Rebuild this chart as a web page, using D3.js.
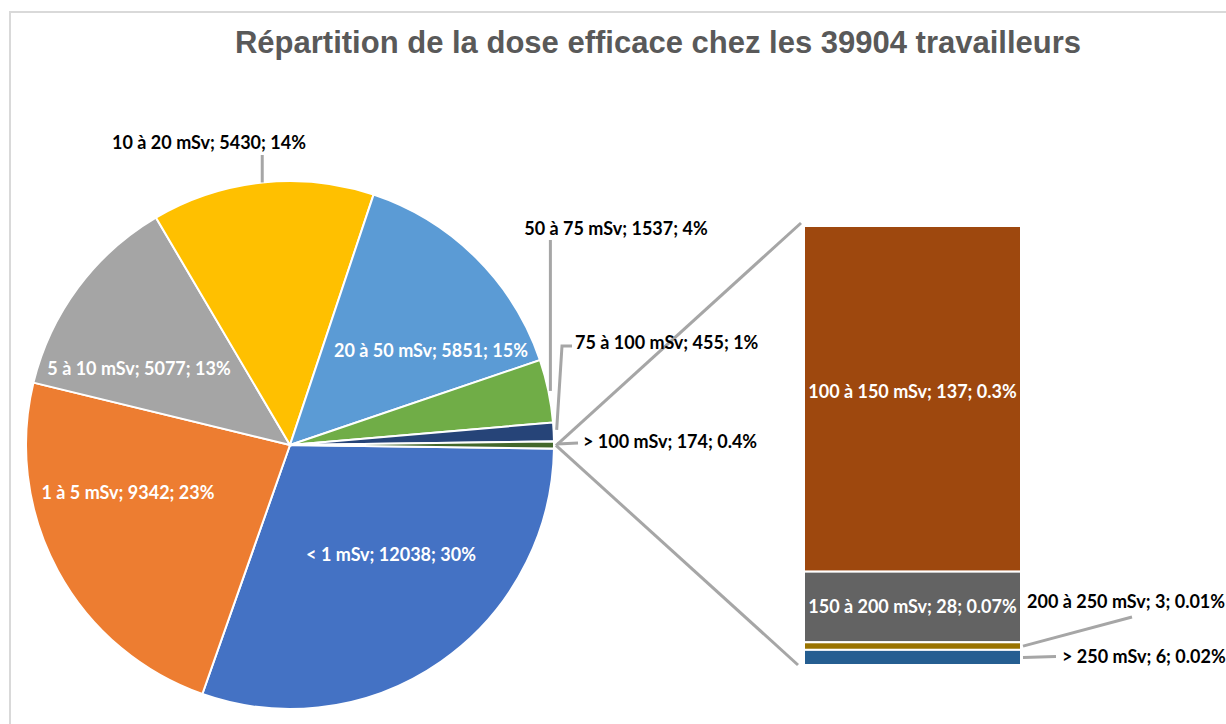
<!DOCTYPE html>
<html>
<head>
<meta charset="utf-8">
<script src="https://d3js.org/d3.v7.min.js"></script>
<style>
  body { margin: 0; background: #fff; }
  text.lbl { font-family: Lato, "Open Sans", sans-serif; font-weight: 700; font-size: 18px; }
</style>
</head>
<body>
<svg id="chart" width="1226" height="724"></svg>
<script>
// pie data
var pieCats = ["< 1 mSv", "1 à 5 mSv", "5 à 10 mSv", "10 à 20 mSv", "20 à 50 mSv", "50 à 75 mSv", "75 à 100 mSv", "> 100 mSv"];
var pieVals = [12038, 9342, 5077, 5430, 5851, 1537, 455, 174];
var piePct  = ["30%", "23%", "13%", "14%", "15%", "4%", "1%", "0.4%"];
var pieColors = ["#4472C4", "#ED7D31", "#A5A5A5", "#FFC000", "#5B9BD5", "#70AD47", "#264478", "#43682B"];

// bar (detail of "> 100 mSv")
var barCats = ["100 à 150 mSv", "150 à 200 mSv", "200 à 250 mSv", "> 250 mSv"];
var barVals = [137, 28, 3, 6];
var barPct  = ["0.3%", "0.07%", "0.01%", "0.02%"];
var barColors = ["#9E480E", "#636363", "#997300", "#255E91"];

var total = d3.sum(pieVals);
var svg = d3.select("#chart");
var grey = "#A6A6A6";

// chart frame
svg.append("path")
   .attr("d", "M10,724 V12 H1226")
   .attr("fill", "none").attr("stroke", "#D9D9D9").attr("stroke-width", 2);

svg.append("text")
   .attr("x", 658).attr("y", 53)
   .attr("text-anchor", "middle")
   .attr("font-family", "Liberation Sans, Arial, sans-serif")
   .attr("font-weight", "bold").attr("font-size", 31)
   .attr("fill", "#595959")
   .text("Répartition de la dose efficace chez les " + total + " travailleurs");

// ---------- pie ----------
var cx = 290, cy = 445, R = 264;
// rotate so the last slice (the one detailed in the bar) sits centered at 3 o'clock
var offset = Math.PI / 2 + Math.PI * pieVals[pieVals.length - 1] / total;
var pie = d3.pie().sort(null).value(function(d) { return d; })
            .startAngle(offset).endAngle(offset + 2 * Math.PI);
var arcs = pie(pieVals);
var arc = d3.arc().innerRadius(0).outerRadius(R);

var g = svg.append("g").attr("transform", "translate(" + cx + "," + cy + ")");
g.selectAll("path").data(arcs).enter().append("path")
  .attr("d", arc)
  .attr("fill", function(d, i) { return pieColors[i]; })
  .attr("stroke", "#fff").attr("stroke-width", 2);

function edge(a, r) {
  var m = (a.startAngle + a.endAngle) / 2;
  return [cx + r * Math.sin(m), cy - r * Math.cos(m)];
}
function pieText(i) { return pieCats[i] + "; " + pieVals[i] + "; " + piePct[i]; }

// inside labels: [index, x, y]
var insideLbl = [[0, 391, 555], [1, 128, 493], [2, 139, 369], [4, 431, 351]];
insideLbl.forEach(function(l) {
  svg.append("text").attr("class", "lbl")
     .attr("x", l[1]).attr("y", l[2]).attr("dy", "0.35em")
     .attr("text-anchor", "middle").attr("fill", "#fff")
     .text(pieText(l[0]));
});

// bar geometry
var bx0 = 804, bx1 = 1021;
var yb = d3.scaleLinear().domain([0, d3.sum(barVals)]).range([226, 665]);
var cum = 0;
var segs = barVals.map(function(v) { var s = { y0: cum, y1: cum + v }; cum += v; return s; });

// connectors pie -> bar
var last = arcs[arcs.length - 1];
var pTop = [cx + R * Math.sin(last.endAngle) + 2, cy - R * Math.cos(last.endAngle) - 3];
var pBot = [cx + R * Math.sin(last.startAngle) + 2, cy - R * Math.cos(last.startAngle) + 4];
svg.append("line").attr("x1", pTop[0]).attr("y1", pTop[1]).attr("x2", bx0 - 3).attr("y2", yb(0) - 3)
   .attr("stroke", grey).attr("stroke-width", 3);
svg.append("line").attr("x1", pBot[0]).attr("y1", pBot[1]).attr("x2", bx0 - 6).attr("y2", yb(cum))
   .attr("stroke", grey).attr("stroke-width", 3);

// outside pie labels + leaders
function leader(pts) {
  svg.append("path").attr("d", d3.line()(pts))
     .attr("fill", "none").attr("stroke", grey).attr("stroke-width", 3);
}
function outText(x, y, anchor, str) {
  svg.append("text").attr("class", "lbl")
     .attr("x", x).attr("y", y).attr("dy", "0.35em")
     .attr("text-anchor", anchor).attr("fill", "#000").text(str);
}

var p = edge(arcs[3], R);
leader([[p[0], p[1]], [p[0], 155]]);
outText(209, 143, "middle", pieText(3));

p = edge(arcs[5], R);
leader([[p[0] + 2, p[1]], [p[0] + 2, 240]]);
outText(616, 229, "middle", pieText(5));

p = edge(arcs[6], R);
leader([[p[0] + 3, p[1] - 2], [562, 346], [572, 346]]);
outText(575, 343, "start", pieText(6));

p = edge(arcs[7], R);
leader([[p[0] + 3, p[1] - 1], [578, 443]]);
outText(583, 442, "start", pieText(7));

// ---------- bar ----------
svg.append("g").selectAll("rect").data(segs).enter().append("rect")
  .attr("x", bx0).attr("width", bx1 - bx0)
  .attr("y", function(d) { return yb(d.y0); })
  .attr("height", function(d) { return yb(d.y1) - yb(d.y0); })
  .attr("fill", function(d, i) { return barColors[i]; })
  .attr("stroke", "#fff").attr("stroke-width", 2);

function barText(i) { return barCats[i] + "; " + barVals[i] + "; " + barPct[i]; }
[0, 1].forEach(function(i) {
  var ym = (yb(segs[i].y0) + yb(segs[i].y1)) / 2 - (i === 0 ? 7 : 0);
  svg.append("text").attr("class", "lbl")
     .attr("x", (bx0 + bx1) / 2).attr("y", ym).attr("dy", "0.35em")
     .attr("text-anchor", "middle").attr("fill", "#fff").text(barText(i));
});

var ym2 = (yb(segs[2].y0) + yb(segs[2].y1)) / 2;
leader([[bx1 + 2, ym2], [1132, 617]]);
outText(1027, 602, "start", barText(2));

var ym3 = (yb(segs[3].y0) + yb(segs[3].y1)) / 2;
leader([[bx1 + 2, ym3], [1056, ym3 - 1]]);
outText(1062, 657, "start", barText(3));
</script>
</body>
</html>
